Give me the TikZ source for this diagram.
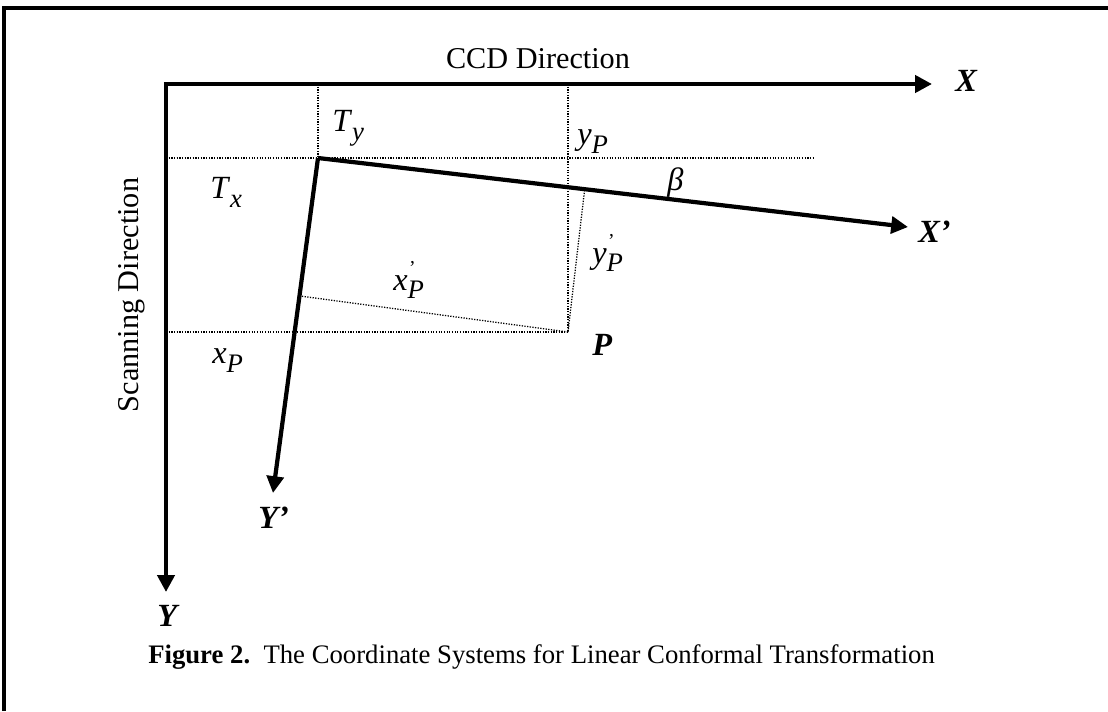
\documentclass[tikz,border=0pt]{standalone}
\usepackage{fontspec}
\setmainfont{Liberation Serif}
\usetikzlibrary{arrows.meta,calc}

% italic symbol with a lowered index, optional prime above it
\newcommand{\symsub}[2]{\textit{#1}\raisebox{-7pt}{\fontsize{19}{19}\selectfont\textit{#2}}}
\newcommand{\symsubpr}[2]{\textit{#1}\rlap{\raisebox{11pt}{\fontsize{14}{14}\selectfont\kern1pt'}}\raisebox{-6pt}{\fontsize{19}{19}\selectfont\textit{#2}}}

\begin{document}
\begin{tikzpicture}[
    x=0.025cm, y=-0.025cm,
    axis/.style={-{Triangle[length=0.42cm, width=0.42cm]}, line width=3pt},
    guide/.style={densely dotted, line width=0.9pt},
    frame/.style={line width=2.2pt},
    lbl/.style={font=\fontsize{23}{26}\selectfont, inner sep=0pt, anchor=base west},
    axlbl/.style={font=\fontsize{23}{26}\selectfont\bfseries\itshape, inner sep=0pt, anchor=base west},
    dirtext/.style={font=\fontsize{21.5}{24}\selectfont, inner sep=0pt, anchor=base},
    captext/.style={font=\fontsize{19}{22}\selectfont, inner sep=0pt, anchor=base west}]
  \useasboundingbox (0,0) rectangle (1108,711);
  % frame
  \draw[frame] (4,711) -- (4,8) -- (1110,8);

  % coordinates
  \coordinate (O) at (166,84);
  \coordinate (Xend) at (932,84);
  \coordinate (Yend) at (166,592);
  \coordinate (Op) at (318,158);
  \coordinate (Xpend) at (908,227);
  \coordinate (Ypend) at (273,493);
  \coordinate (P) at (568,332);
  \coordinate (TyTop) at (318,84);
  \coordinate (yPTop) at (568,84);
  \coordinate (TxLeft) at (166,158);
  \coordinate (TxRight) at (815,158);
  \coordinate (xPLeft) at (166,332);
  \coordinate (footX) at ($(Op)!(P)!(Xpend)$);
  \coordinate (footY) at ($(Op)!(P)!(Ypend)$);

  % guide lines
  \draw[guide] (TyTop) -- (Op);
  \draw[guide] (yPTop) -- (P);
  \draw[guide] (TxLeft) -- (TxRight);
  \draw[guide] (xPLeft) -- (P);
  \draw[guide] (P) -- (footX);
  \draw[guide] (P) -- (footY);

  % axes
  \draw[axis] ([xshift=-1.5pt]O) -- (Xend);
  \draw[axis] (O) -- (Yend);
  \draw[axis] (Op) -- (Xpend);
  \draw[axis] (Op) -- (Ypend);

  % labels
  \node[axlbl] (lX) at (955,91) {X};
  \node[axlbl] (lY) at (157,626) {Y};
  \node[axlbl] (lXp) at (918,242) {X’};
  \node[axlbl] (lYp) at (258,528) {Y’};
  \node[axlbl] (lP) at (592,355) {P};
  \node[dirtext] (ccd) at (538,68) {CCD Direction};
  \node[dirtext, rotate=90] (scan) at (138,295) {Scanning Direction};
  \node[lbl] (Ty) at (332,131) {\symsub{T}{y}};
  \node[lbl] (Tx) at (210,198) {\symsub{T}{x}};
  \node[lbl] (yP) at (577,144) {\symsub{y}{P}};
  \node[lbl] (xP) at (212,363) {\symsub{x}{P}};
  \node[lbl] (beta) at (667,190) {\textit{β}};
  \node[lbl] (ypP) at (592,263) {\symsubpr{y}{P}};
  \node[lbl] (xpP) at (393,290) {\symsubpr{x}{P}};

  % caption
  \node[captext] (caption) at (148,663) {\textbf{Figure 2.}\ \ The Coordinate Systems for Linear Conformal Transformation};
\end{tikzpicture}
\end{document}
